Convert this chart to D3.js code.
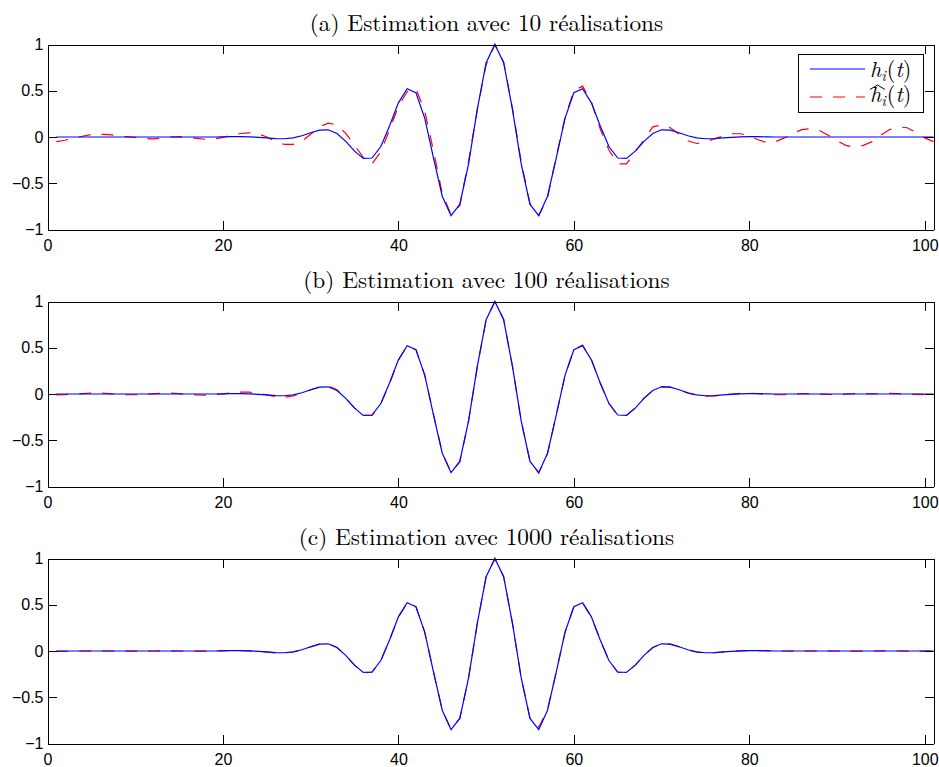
<!DOCTYPE html>
<html><head><meta charset="utf-8">
<script src="https://cdn.jsdelivr.net/npm/d3@7"></script>
<style>body{margin:0;background:#fff}</style>
</head><body><svg id="c" width="939" height="767"></svg>
<script>
// ---------- data ----------
const tIndex = d3.range(1, 102); // sample index t = 1..101

const hTrue = [
  0,0,0,0,0,0,0,0,0,0,0,0,0,0,0,0,0,0,
  0.000,0.002,0.003,0.003,0.002,-0.003,-0.010,-0.017,-0.019,-0.010,
  0.013,0.046,0.074,0.078,0.038,-0.047,-0.153,-0.232,-0.227,-0.103,
  0.121,0.369,0.522,0.478,0.204,-0.225,-0.640,-0.850,-0.729,-0.291,
  0.301,0.804,1.000,0.804,0.301,-0.291,-0.729,-0.850,-0.640,-0.225,
  0.204,0.478,0.522,0.369,0.121,-0.103,-0.227,-0.232,-0.153,-0.047,
  0.038,0.078,0.074,0.046,0.013,-0.010,-0.019,-0.017,-0.010,-0.003,
  0.002,0.003,0.003,0.002,0.000,
  0,0,0,0,0,0,0,0,0,0,0,0,0,0,0,0,0,0
];

const hEst10 = [
  -0.050,-0.035,-0.012,0.008,0.028,0.030,0.025,0.015,0.005,-0.005,
  -0.015,-0.020,-0.012,0.000,0.005,-0.003,-0.015,-0.025,-0.022,-0.005,
  0.020,0.038,0.045,0.035,0.000,-0.050,-0.080,-0.080,-0.045,0.030,
  0.110,0.150,0.130,0.040,-0.090,-0.220,-0.290,-0.160,0.080,0.330,
  0.490,0.525,0.280,-0.150,-0.610,-0.840,-0.740,-0.260,0.300,0.780,
  1.000,0.810,0.310,-0.270,-0.720,-0.850,-0.660,-0.210,0.210,0.500,
  0.550,0.380,0.090,-0.140,-0.290,-0.290,-0.160,-0.030,0.110,0.130,
  0.100,0.030,-0.040,-0.070,-0.055,-0.020,0.010,0.035,0.035,0.015,
  -0.030,-0.060,-0.050,-0.010,0.040,0.080,0.090,0.070,0.020,-0.040,
  -0.090,-0.110,-0.090,-0.050,0.020,0.080,0.110,0.100,0.050,-0.010,
  -0.050
];

const hEst100 = [
  -0.010,-0.006,0.000,0.005,0.010,0.010,0.005,-0.003,-0.008,-0.008,
  -0.004,0.002,0.007,0.009,0.005,-0.003,-0.009,-0.012,-0.008,0.002,
  0.012,0.020,0.020,0.008,-0.010,-0.028,-0.035,-0.022,0.008,0.045,
  0.075,0.088,0.045,-0.045,-0.150,-0.230,-0.232,-0.105,0.115,0.365,
  0.518,0.480,0.205,-0.220,-0.635,-0.845,-0.735,-0.290,0.295,0.800,
  0.998,0.805,0.300,-0.295,-0.725,-0.855,-0.645,-0.225,0.200,0.480,
  0.528,0.372,0.118,-0.100,-0.228,-0.232,-0.150,-0.045,0.040,0.080,
  0.075,0.045,0.010,-0.014,-0.024,-0.020,-0.010,0.000,0.007,0.008,
  0.004,-0.004,-0.008,-0.006,0.000,0.005,0.005,0.000,-0.005,-0.006,
  -0.002,0.003,0.005,0.002,0.003,0.007,0.005,0.000,-0.005,-0.008,
  -0.006
];

const hEst1000 = [
  -0.004,-0.003,-0.002,0.000,0.001,0.001,0.000,-0.001,-0.002,-0.002,
  -0.001,0.000,0.001,0.001,0.000,-0.001,-0.002,-0.001,0.001,0.004,
  0.006,0.005,0.002,-0.005,-0.013,-0.020,-0.021,-0.011,0.012,0.045,
  0.075,0.079,0.038,-0.048,-0.155,-0.235,-0.228,-0.102,0.120,0.368,
  0.520,0.478,0.205,-0.224,-0.640,-0.845,-0.728,-0.290,0.300,0.802,
  0.998,0.803,0.300,-0.290,-0.725,-0.825,-0.635,-0.224,0.203,0.477,
  0.520,0.368,0.120,-0.103,-0.228,-0.233,-0.153,-0.047,0.038,0.078,
  0.074,0.045,0.012,-0.012,-0.021,-0.019,-0.012,-0.004,0.002,0.004,
  0.005,0.004,0.002,0.000,-0.001,-0.001,0.000,0.001,0.001,0.000,
  -0.001,-0.002,-0.001,0.000,0.001,0.001,0.000,-0.001,-0.002,-0.001,
  0.000
];

const panelTitles = [
  "(a) Estimation avec 10 réalisations",
  "(b) Estimation avec 100 réalisations",
  "(c) Estimation avec 1000 réalisations"
];
const estimates = [hEst10, hEst100, hEst1000];

const xDomain = [0, 101];
const yDomain = [-1, 1];
const xTickValues = [0, 20, 40, 60, 80, 100];
const yTickValues = [-1, -0.5, 0, 0.5, 1];
const yTickLabels = ["\u22121", "\u22120.5", "0", "0.5", "1"];

// ---------- layout ----------
const svg = d3.select("#c");
svg.append("rect").attr("width", 939).attr("height", 767).attr("fill", "#fff");

const left = 47.5, right = 933.5, plotH = 185;
const tops = [44.5, 301.5, 558.5];
const tickFont = "Liberation Sans";
const serif = "Latin Modern Roman";

tops.forEach((top, i) => {
  const x = d3.scaleLinear().domain(xDomain).range([left, right]);
  const y = d3.scaleLinear().domain(yDomain).range([top + plotH, top]);
  const g = svg.append("g");

  const line = d3.line().x((d, k) => x(tIndex[k])).y(d => y(d));

  g.append("path").datum(estimates[i]).attr("d", line)
    .attr("fill", "none").attr("stroke", "#ff0000").attr("stroke-width", 1.2)
    .attr("stroke-dasharray", "12,11");
  g.append("path").datum(hTrue).attr("d", line)
    .attr("fill", "none").attr("stroke", "#0000ff").attr("stroke-width", 1.2);

  const yFmt = v => yTickLabels[yTickValues.indexOf(v)];
  const axB = g.append("g").attr("transform", `translate(0,${top + plotH})`)
    .call(d3.axisBottom(x).tickValues(xTickValues).tickSizeInner(-9).tickSizeOuter(0).tickPadding(10));
  const axT = g.append("g").attr("transform", `translate(0,${top})`)
    .call(d3.axisTop(x).tickValues(xTickValues).tickSizeInner(-9).tickSizeOuter(0).tickFormat(""));
  const axL = g.append("g").attr("transform", `translate(${left},0)`)
    .call(d3.axisLeft(y).tickValues(yTickValues).tickSizeInner(-9).tickSizeOuter(0).tickPadding(4).tickFormat(yFmt));
  const axR = g.append("g").attr("transform", `translate(${right},0)`)
    .call(d3.axisRight(y).tickValues(yTickValues).tickSizeInner(-9).tickSizeOuter(0).tickFormat(""));
  [axB, axT, axL, axR].forEach(a => {
    a.attr("font-family", tickFont).attr("font-size", 16);
    a.selectAll("path.domain").attr("stroke", "#000").attr("stroke-width", 1).attr("shape-rendering", "crispEdges");
    a.selectAll(".tick line").attr("stroke", "#000").attr("stroke-width", 1).attr("shape-rendering", "crispEdges");
    a.selectAll("text").attr("fill", "#000");
  });

  g.append("text").attr("x", 486.5).attr("y", top - 13.5)
    .attr("text-anchor", "middle")
    .attr("font-family", serif).attr("font-size", 23.3).attr("fill", "#000")
    .text(panelTitles[i]);

  if (i === 0) {
    const lg = g.append("g");
    lg.append("rect").attr("x", 798.5).attr("y", 54.5).attr("width", 125).attr("height", 58)
      .attr("fill", "#fff").attr("stroke", "#000").attr("stroke-width", 1).attr("shape-rendering", "crispEdges");
    lg.append("line").attr("x1", 810).attr("x2", 865).attr("y1", 69).attr("y2", 69)
      .attr("stroke", "#0000ff").attr("stroke-width", 1.2);
    lg.append("line").attr("x1", 810).attr("x2", 865).attr("y1", 97).attr("y2", 97)
      .attr("stroke", "#ff0000").attr("stroke-width", 1.2).attr("stroke-dasharray", "12,11");
    const mk = (yb) => {
      const t = lg.append("text").attr("x", 870).attr("y", yb)
        .attr("font-family", serif).attr("font-size", 22).attr("fill", "#000");
      t.append("tspan").attr("font-style", "italic").text("h");
      t.append("tspan").attr("font-style", "italic").attr("font-size", 15).attr("dy", 4).text("i");
      t.append("tspan").attr("dy", -4).attr("dx", 1).text("(");
      t.append("tspan").attr("font-style", "italic").text("t");
      t.append("tspan").text(")");
      return t;
    };
    mk(77);
    mk(101.5);
    lg.append("path").attr("d", "M870,89.5 L877.5,85 L885,89.5")
      .attr("fill", "none").attr("stroke", "#000").attr("stroke-width", 1);
  }
});
</script></body></html>
